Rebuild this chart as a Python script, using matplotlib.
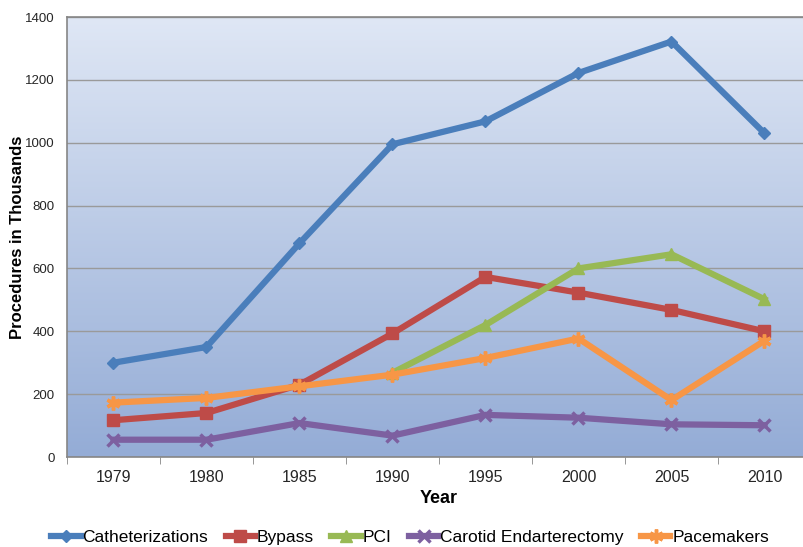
import numpy as np
import matplotlib.pyplot as plt
from matplotlib.colors import LinearSegmentedColormap

plt.rcParams['font.family'] = ['Liberation Sans', 'DejaVu Sans']

years = ['1979', '1980', '1985', '1990', '1995', '2000', '2005', '2010']
catheterizations = [300, 350, 680, 995, 1068, 1222, 1322, 1030]
bypass = [117, 140, 230, 393, 573, 523, 468, 400]
pci = [None, None, None, 268, 420, 600, 645, 502]
carotid = [55, 55, 108, 68, 134, 125, 104, 101]
pacemakers = [173, 188, 225, 262, 315, 377, 181, 370]

series = [
    ('Catheterizations', catheterizations, '#4a7ebb', 'D', 6),
    ('Bypass', bypass, '#be4b48', 's', 8),
    ('PCI', pci, '#98b954', '^', 9),
    ('Carotid Endarterectomy', carotid, '#7d60a0', 'x', 8),
    ('Pacemakers', pacemakers, '#f79646', (6, 2, 0), 10),
]

fig = plt.figure(figsize=(8.04, 5.47), dpi=100)
ax = fig.add_axes([67 / 804, 90 / 547, 744 / 804, 440 / 547])

# gradient background, light at the top
cmap = LinearSegmentedColormap.from_list('bg', ['#dfe7f5', '#94acd6'])
grad = np.linspace(0, 1, 256).reshape(-1, 1)
ax.imshow(grad, cmap=cmap, aspect='auto', origin='upper',
          extent=[-0.5, 7.5, 0, 1400], zorder=0)

x = np.arange(len(years))
for name, vals, color, marker, ms in series:
    v = np.array([np.nan if a is None else a for a in vals], dtype=float)
    mew = 2.5 if marker in ('x', (6, 2, 0)) else 1
    ax.plot(x, v, color=color, lw=4.5, marker=marker, ms=ms, mew=mew,
            mec=color, mfc=color, label=name, zorder=3, solid_joinstyle='miter')

ax.set_xlim(-0.5, 7.5)
ax.set_ylim(0, 1400)
ax.set_yticks(range(0, 1401, 200))
ax.yaxis.grid(True, color='#9a9a9a', lw=1)
for gl in ax.get_ygridlines():
    gl.set_zorder(1)
ax.set_xticks(x)
ax.set_xticklabels(years)
ax.set_xticks(np.arange(-0.5, 8, 1), minor=True)
ax.tick_params(axis='x', which='major', length=0, pad=9, labelsize=11.5, labelcolor='#262626')
ax.tick_params(axis='x', which='minor', length=5, color='#868686')
ax.tick_params(axis='y', length=0, pad=9, labelsize=9.5, labelcolor='#262626')
for s in ['left', 'bottom', 'top']:
    ax.spines[s].set_color('#868686')
    ax.spines[s].set_linewidth(1.2)
ax.spines['right'].set_visible(False)

ax.set_xlabel('Year', fontsize=13, fontweight='bold', labelpad=4)
ax.set_ylabel('Procedures in Thousands', fontsize=12, fontweight='bold')
ax.yaxis.set_label_coords(-42 / 744, 0.5)

fig.legend(loc='center', bbox_to_anchor=(0.51, 0.018), ncol=5, frameon=False,
           fontsize=12.5, handlelength=1.7, handletextpad=0.1, columnspacing=1.0,
           borderaxespad=0)

fig.savefig('out.png', dpi=100)
